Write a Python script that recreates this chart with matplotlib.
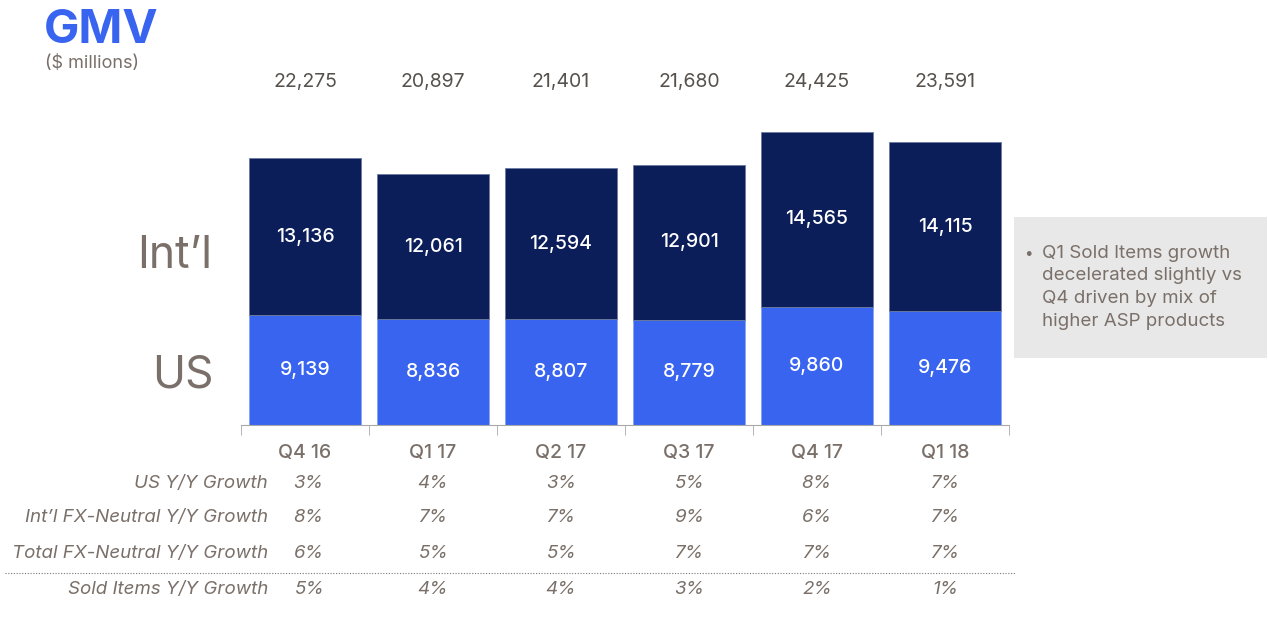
import matplotlib.pyplot as plt
import matplotlib.transforms as mtransforms
import numpy as np

# Данные
quarters = ['Q4 16', 'Q1 17', 'Q2 17', 'Q3 17', 'Q4 17', 'Q1 18']
us_gmv = [9139, 8836, 8807, 8779, 9860, 9476]
intl_gmv = [13136, 12061, 12594, 12901, 14565, 14115]
total_gmv = [22275, 20897, 21401, 21680, 24425, 23591]

row_labels = ['US Y/Y Growth', 'Int\u2019l FX-Neutral Y/Y Growth',
              'Total FX-Neutral Y/Y Growth', 'Sold Items Y/Y Growth']
us_growth = ['3%', '4%', '3%', '5%', '8%', '7%']
intl_growth = ['8%', '7%', '7%', '9%', '6%', '7%']
total_growth = ['6%', '5%', '5%', '7%', '7%', '7%']
items_growth = ['5%', '4%', '4%', '3%', '2%', '1%']

BLUE = '#3864f0'
NAVY = '#0b1e5a'
GREY = '#7a7069'

plt.rcParams['font.family'] = ['Inter', 'DejaVu Sans']

W, H = 1268, 628
fig = plt.figure(figsize=(W / 100, H / 100), dpi=100)

# Оси в пикселях: низ 425, верх 125, слева 241, справа 1009
ax = fig.add_axes([241 / W, (H - 425) / H, 768 / W, 300 / H])
x = np.arange(len(quarters))
ax.bar(x, us_gmv, width=0.87, color=BLUE, edgecolor='#8aa3f0', linewidth=0.6)
ax.bar(x, intl_gmv, bottom=us_gmv, width=0.87, color=NAVY, edgecolor='#6a7aa0', linewidth=0.6)
ax.set_xlim(-0.5, len(quarters) - 0.5)
ax.set_ylim(0, 25000)

for i in range(len(quarters)):
    ax.text(i, us_gmv[i] / 2, f'{us_gmv[i]:,}', ha='center', va='center',
            color='white', fontsize=14, fontweight='medium')
    ax.text(i, us_gmv[i] + intl_gmv[i] / 2, f'{intl_gmv[i]:,}', ha='center',
            va='center', color='white', fontsize=14, fontweight='medium')
    ax.text(i, 28600, f'{total_gmv[i]:,}', ha='center', va='center',
            color='#57514d', fontsize=14)

for s in ['top', 'right', 'left']:
    ax.spines[s].set_visible(False)
ax.spines['bottom'].set_color('#a8a8a8')
ax.set_yticks([])
ax.set_xticks(x)
ax.set_xticklabels(quarters, fontsize=14, color=GREY, fontweight='medium')
ax.tick_params(axis='x', which='major', length=0, pad=14)
ax.set_xticks(np.arange(-0.5, len(quarters)), minor=True)
ax.tick_params(axis='x', which='minor', length=7, color='#a8a8a8')

# Таблица роста
tr = mtransforms.blended_transform_factory(ax.transData, fig.transFigure)
rows = [us_growth, intl_growth, total_growth, items_growth]
row_y = [483, 518, 554, 590]
for lab, vals, ypx in zip(row_labels, rows, row_y):
    yf = 1 - ypx / H
    fig.text(268 / W, yf, lab, ha='right', va='center', fontsize=13.5,
             style='italic', color=GREY)
    for i, v in enumerate(vals):
        ax.text(i if i > 0 else 0.03, yf, v, transform=tr, ha='center', va='center',
                fontsize=13.5, style='italic', color=GREY)

fig.add_artist(plt.Line2D([5 / W, 1015 / W], [1 - 573 / H] * 2, color='#777777',
                          linewidth=0.8, linestyle=(0, (1, 1.5))))

# Подписи сегментов
fig.text(175 / W, 1 - 256 / H, 'Int\u2019l', ha='center', va='center',
         fontsize=32, color=GREY)
fig.text(183 / W, 1 - 376 / H, 'US', ha='center', va='center',
         fontsize=32, color=GREY)

# Заголовок
fig.text(44 / W, 1 - 43 / H, 'GMV', ha='left', va='baseline', fontsize=34,
         fontweight='bold', color=BLUE)
fig.text(45 / W, 1 - 64 / H, '($ millions)', ha='left', va='center',
         fontsize=13, color=GREY)

# Боковой блок
fig.add_artist(plt.Rectangle((1014 / W, 1 - 358 / H), 253 / W, 141 / H,
                             facecolor='#e8e8e8', edgecolor='none'))
fig.text(1028 / W, 1 - 253 / H, '\u2022', ha='center', va='center',
         fontsize=11, color=GREY)
note = ['Q1 Sold Items growth', 'decelerated slightly vs',
        'Q4 driven by mix of', 'higher ASP products']
for k, line in enumerate(note):
    fig.text(1042 / W, 1 - (253 + 22.7 * k) / H, line, ha='left', va='center',
             fontsize=13.5, color=GREY)

fig.savefig('out.png', dpi=100)
